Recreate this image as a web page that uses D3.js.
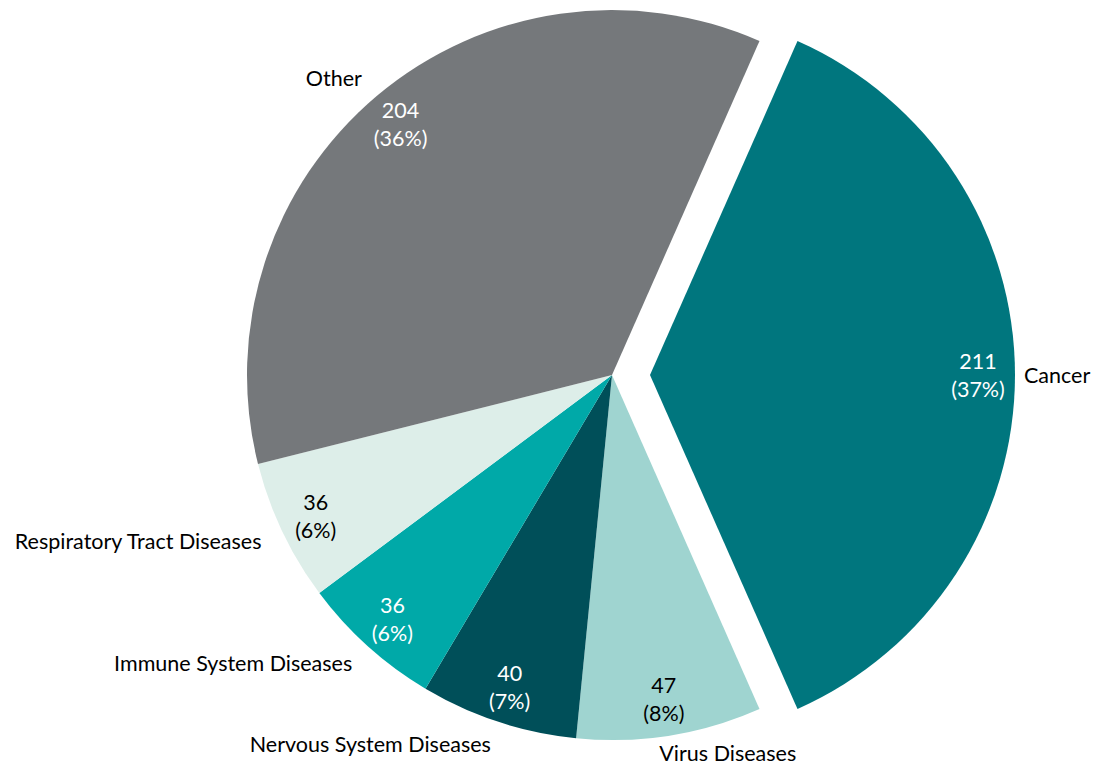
<!DOCTYPE html>
<html><head><meta charset="utf-8">
<script src="https://cdn.jsdelivr.net/npm/d3@7"></script>
<style>html,body{margin:0;padding:0;background:#fff;}svg{display:block;}</style>
</head><body>
<svg id="chart" width="1094" height="767"></svg>
<script>
const categories = ["Cancer","Virus Diseases","Nervous System Diseases","Immune System Diseases","Respiratory Tract Diseases","Other"];
const values = [211,47,40,36,36,204];
const colors = ["#00767E","#9FD4D0","#004F59","#00A9A8","#DDEEE9","#75787B"];
const labelColors = ["#fff","#000","#fff","#fff","#000","#fff"];

const W = 1094, H = 767;
const cx = 612, cy = 375, r = 365;
const explode = 38;
const font = "Lato, 'Open Sans', sans-serif";
const fs = 21.5;

const total = d3.sum(values);
const firstAngle = values[0]/total*Math.PI*2;
const start = Math.PI/2 - firstAngle/2;

const pie = d3.pie().sort(null).value(d=>d).startAngle(start).endAngle(start+Math.PI*2);
const arcs = pie(values);
const arc = d3.arc().innerRadius(0).outerRadius(r);

const svg = d3.select("#chart");
const g = svg.append("g").attr("transform",`translate(${cx},${cy})`);

const slice = g.selectAll("g.slice").data(arcs).enter().append("g")
  .attr("transform",(d,i)=>{
    if(i!==0) return null;
    const m=(d.startAngle+d.endAngle)/2;
    return `translate(${Math.sin(m)*explode},${-Math.cos(m)*explode})`;
  });

slice.append("path").attr("d",arc).attr("fill",(d,i)=>colors[i]);

const inR = 328;
slice.each(function(d,i){
  const m=(d.startAngle+d.endAngle)/2;
  const s=d3.select(this);
  const x=Math.sin(m)*inR, y=-Math.cos(m)*inR;
  const pct=Math.round(d.value/total*100);
  const t=s.append("text").attr("text-anchor","middle").attr("font-family",font).attr("font-size",fs)
    .attr("fill",labelColors[i]);
  t.append("tspan").attr("x",x).attr("y",y-6).text(d.value);
  t.append("tspan").attr("x",x).attr("y",y+22).text(`(${pct}%)`);
  const sn = Math.sin(m), cs = Math.cos(m);
  const right = sn>0.5, bottom = cs < -0.9;
  const outR = right ? 374 : 388;
  let ox=sn*outR, oy=-cs*outR;
  if(bottom && sn>0) { ox -= 14; oy -= 5; }
  s.append("text").attr("x",ox).attr("y",oy+8)
    .attr("text-anchor", (right || (bottom && sn>0)) ? "start" : "end")
    .attr("font-family",font).attr("font-size",fs).attr("fill","#000").text(categories[i]);
});
</script>
</body></html>
